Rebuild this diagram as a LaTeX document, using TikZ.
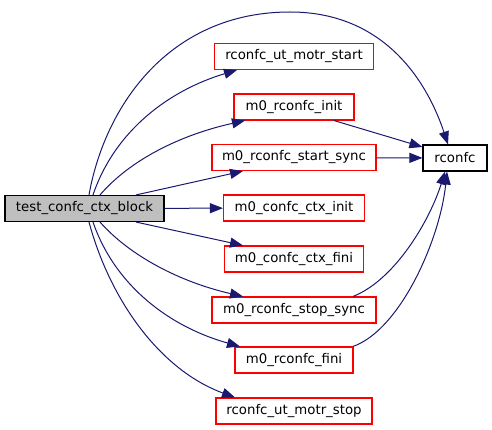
\documentclass[tikz,border=0pt]{standalone}
\usepackage{fontspec}
\setmainfont{DejaVu Sans}
\usetikzlibrary{arrows.meta}
\definecolor{edgeblue}{HTML}{191970}
\definecolor{boxgray}{HTML}{BFBFBF}
\definecolor{boxred}{HTML}{FF0000}
\begin{document}
\begin{tikzpicture}[x=1pt, y=-1pt,
		fn/.style={draw=boxred, line width=1.1pt, fill=white, minimum height=26pt, inner sep=0pt, font=\fontsize{13.3pt}{16pt}\selectfont},
		root/.style={fn, draw=black, fill=boxgray},
		call/.style={draw=edgeblue, line width=1pt, -{Triangle[length=13pt, width=10pt]}}]
		\useasboundingbox (0, 0) rectangle (492, 430);

		\node[root, minimum width=159pt] (block) at (84.5, 208.5) {test\_confc\_ctx\_block};

		\node[fn, minimum width=159pt] (utstart) at (294, 56.5) {rconfc\_ut\_motr\_start};
		\node[fn, minimum width=120pt] (init) at (294, 107) {m0\_rconfc\_init};
		\node[fn, minimum width=164pt] (startsync) at (294, 157.5) {m0\_rconfc\_start\_sync};
		\node[fn, minimum width=141pt] (ctxinit) at (294, 208) {m0\_confc\_ctx\_init};
		\node[fn, minimum width=139pt] (ctxfini) at (294, 259) {m0\_confc\_ctx\_fini};
		\node[fn, minimum width=164pt] (stopsync) at (294, 310) {m0\_rconfc\_stop\_sync};
		\node[fn, minimum width=118pt] (fini) at (294, 360) {m0\_rconfc\_fini};
		\node[fn, minimum width=156pt] (utstop) at (294, 411) {rconfc\_ut\_motr\_stop};

		\node[fn, draw=black, minimum width=64pt] (rconfc) at (455, 158) {rconfc};

		\draw[call] ([xshift=4.5pt]block.north) .. controls (105, 105) and (170, 12) .. (290, 12) .. controls (390, 12) and (430, 90) .. ([xshift=-7pt]rconfc.north);
		\draw[call] ([xshift=8.5pt]block.north) .. controls (115, 130) and (170, 90) .. ([xshift=-57pt]utstart.south);
		\draw[call] ([xshift=15.5pt]block.north) .. controls (130, 160) and (180, 135) .. ([xshift=-49pt]init.south);
		\draw[call] ([xshift=51.5pt]block.north) -- ([xshift=-51pt]startsync.south);
		\draw[call] (block) -- (ctxinit);
		\draw[call] ([xshift=51.5pt]block.south) -- ([xshift=-51pt]ctxfini.north);
		\draw[call] ([xshift=15.5pt]block.south) .. controls (130, 256) and (180, 282) .. ([xshift=-51pt]stopsync.north);
		\draw[call] ([xshift=8.5pt]block.south) .. controls (115, 286) and (170, 327) .. ([xshift=-54pt]fini.north);
		\draw[call] ([xshift=4.5pt]block.south) .. controls (110, 300) and (160, 370) .. ([xshift=-59pt]utstop.north);

		\draw[call] ([xshift=40pt]init.south) -- ([yshift=11pt]rconfc.west);
		\draw[call] (startsync) -- (rconfc);
		\draw[call] ([xshift=59pt]stopsync.north) .. controls (395, 280) and (430, 220) .. ([xshift=-10pt]rconfc.south);
		\draw[call] ([xshift=59pt]fini.north) .. controls (400, 330) and (440, 240) .. ([xshift=-8pt]rconfc.south);
	\end{tikzpicture}
\end{document}
